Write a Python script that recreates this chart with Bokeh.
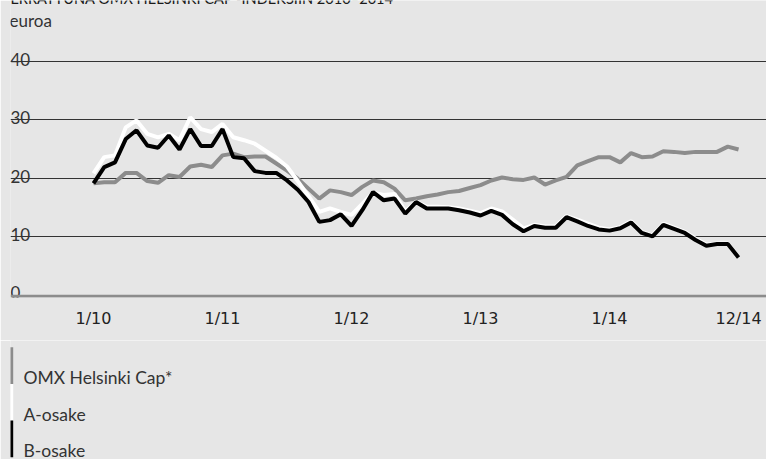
from bokeh.plotting import figure
from bokeh.models import Range1d, FixedTicker, Span, Label
from bokeh.layouts import column
from bokeh.embed import file_html
from bokeh.resources import INLINE
from bokeh.core.properties import value

title_text = "VERRATTUNA OMX HELSINKI CAP -INDEKSIIN 2010–2014"
unit_label = "euroa"

months = list(range(61))  # 1/2010 ... 1/2015 (monthly)
x_tick_pos = [0, 12, 24, 36, 48, 60]
x_tick_labels = ["1/10", "1/11", "1/12", "1/13", "1/14", "12/14"]
y_ticks = [0, 10, 20, 30, 40]

series_names = ["OMX Helsinki Cap*", "A-osake", "B-osake"]
series_colors = ["#8c8c8c", "#ffffff", "#000000"]

omx = [19.1, 19.3, 19.3, 20.9, 20.9, 19.5, 19.2, 20.5, 20.2, 22.0, 22.3, 21.9,
       23.9, 24.2, 23.6, 23.7, 23.7, 22.5, 21.3, 19.9, 18.2, 16.5, 17.9, 17.6,
       17.1, 18.5, 19.6, 19.3, 18.2, 16.2, 16.5, 16.9, 17.2, 17.6, 17.8, 18.3,
       18.8, 19.6, 20.1, 19.8, 19.7, 20.1, 18.9, 19.6, 20.2, 22.2, 22.9, 23.6,
       23.6, 22.7, 24.3, 23.6, 23.7, 24.6, 24.5, 24.3, 24.5, 24.5, 24.5, 25.4,
       24.9]
a_osake = [20.8, 23.6, 23.9, 28.7, 29.9, 27.6, 27.0, 27.6, 26.5, 30.4, 28.4, 27.9,
           29.3, 27.0, 26.5, 25.9, 24.7, 23.5, 22.0, 19.5, 16.9, 14.2, 14.8, 14.2,
           13.7, 15.6, 17.5, 17.1, 17.3, 14.3, 16.0, 15.1, 15.1, 15.0, 14.8, 14.4,
           14.0, 14.8, 14.3, 12.9, 11.4, 12.0, 11.7, 11.7, 13.5, 12.9, 12.2, 11.5,
           11.2, 11.6, 12.6, 10.8, 10.2, 12.2, 11.5, 10.8, 9.6, 8.6, 8.8, 8.8,
           6.5]
b_osake = [19.1, 21.9, 22.7, 26.7, 28.2, 25.6, 25.2, 27.3, 24.9, 28.4, 25.5, 25.5,
           28.4, 23.6, 23.4, 21.2, 20.9, 20.9, 19.6, 18.0, 15.9, 12.5, 12.8, 13.8,
           11.8, 14.5, 17.6, 16.2, 16.5, 13.9, 15.9, 14.8, 14.8, 14.8, 14.5, 14.1,
           13.6, 14.4, 13.7, 12.1, 10.9, 11.8, 11.5, 11.5, 13.3, 12.6, 11.8, 11.2,
           11.0, 11.4, 12.4, 10.6, 10.0, 12.0, 11.3, 10.6, 9.4, 8.4, 8.7, 8.7,
           6.4]
series_values = [omx, a_osake, b_osake]

BG = "#e6e6e6"
TXT = "#333333"
FONT = "Lato"

x0, x1 = -7.72, 62.6
p = figure(width=766, height=340, output_backend="svg", toolbar_location=None,
           x_range=Range1d(x0, x1), y_range=Range1d(-0.463, 50.45),
           y_axis_location=None,
           min_border_left=10, min_border_right=0, min_border_top=0,
           min_border_bottom=43,
           background_fill_color=BG, border_fill_color=BG, outline_line_color=None)
p.xgrid.visible = False
p.ygrid.ticker = FixedTicker(ticks=y_ticks[1:])
p.ygrid.grid_line_color = "#333333"
p.ygrid.grid_line_width = 1.2

ax = p.xaxis[0]
ax.ticker = FixedTicker(ticks=x_tick_pos)
ax.major_label_overrides = dict(zip(x_tick_pos, x_tick_labels))
ax.axis_line_color = None
ax.major_tick_line_color = None
ax.minor_tick_line_color = None
ax.major_label_text_font = "DejaVu Sans"
ax.major_label_text_font_size = "16px"
ax.major_label_text_color = "#222222"
ax.major_label_standoff = 5

# thicker grey base line, drawn just under the zero level
p.add_layout(Span(location=y_ticks[0] - 0.25, dimension="width",
                  line_color="#8c8c8c", line_width=3))

p.text(x=[x0] * len(y_ticks), y=y_ticks, text=[str(t) for t in y_ticks],
       text_font=value(FONT), text_font_size="17px", text_color=TXT,
       text_baseline="alphabetic", text_align="left", y_offset=-2)

for vals, col in zip(series_values, series_colors):
    p.line(months, vals, line_color=col, line_width=4)

# title: only its lower part shows at the very top of the page
p.add_layout(Label(x=-10, y=299, x_units="screen", y_units="screen",
                   text=title_text, text_font=FONT, text_font_size="14.6px",
                   text_color="#1a1a1a", text_baseline="alphabetic"))
p.add_layout(Label(x=-1, y=277, x_units="screen", y_units="screen",
                   text=unit_label, text_font=FONT, text_font_size="17px",
                   text_color=TXT, text_baseline="alphabetic"))

# legend (frame aligned with the chart frame, 1 data unit = 1 px)
leg = figure(width=766, height=119, output_backend="svg", toolbar_location=None,
             x_range=Range1d(10, 766), y_range=Range1d(-2.56, 0.6826),
             x_axis_location=None, y_axis_location=None,
             min_border_left=10, min_border_right=0, min_border_top=0,
             min_border_bottom=0,
             background_fill_color=BG, border_fill_color=BG,
             outline_line_color=None)
leg.grid.visible = False
rows = [-k for k in range(len(series_names))]
leg.rect(x=10.85, y=rows, width=3.7, height=1, fill_color=series_colors,
         line_color=None)
leg.text(x=23, y=rows, text=series_names, text_font=value(FONT),
         text_font_size="17.5px", text_color=TXT, text_baseline="middle",
         y_offset=12)

layout = column(p, leg)

open("out.html", "w").write(file_html(layout, INLINE))
